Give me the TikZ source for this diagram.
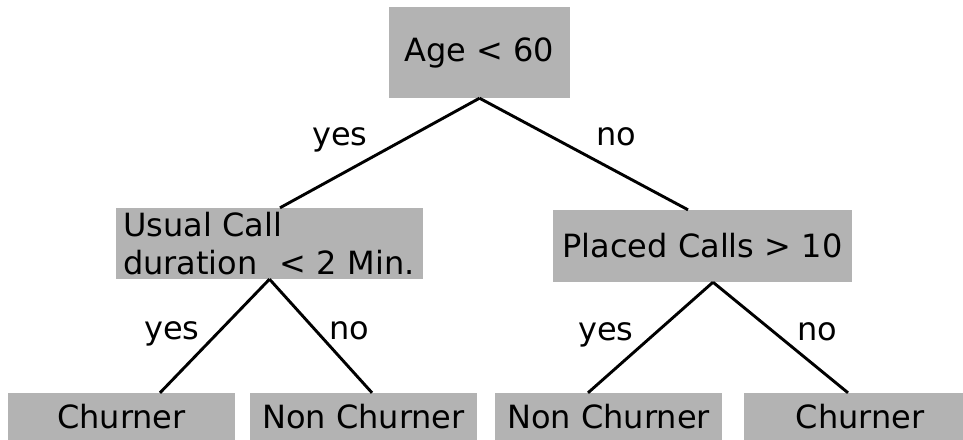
\documentclass[tikz,border=0pt]{standalone}
\usepackage{fontspec}
\setmainfont{DejaVu Sans}
\definecolor{boxgray}{RGB}{179,179,179}
\begin{document}
\begin{tikzpicture}[x=1pt,y=-1pt,
  every node/.style={font=\fontsize{32}{38}\selectfont},
  box/.style={fill=boxgray, inner sep=0pt, text=black},
  leaf/.style={box, minimum width=227pt, minimum height=47pt},
  branch/.style={line width=2.9pt},
  lbl/.style={anchor=base, inner sep=0pt}]
\useasboundingbox (0,0) rectangle (963,439);

% decision nodes
\node[box, minimum width=181pt, minimum height=91pt] (root) at (479.5,52.5) {Age < 60};
\node[box, minimum width=307pt, minimum height=71pt, text width=293pt,
      inner xsep=7pt, align=left] (usual) at (269.5,243.5)
      {Usual Call\\duration\ \ < 2 Min.};
\node[box, minimum width=299pt, minimum height=72pt] (placed) at (702.5,246) {Placed Calls > 10};

% leaves
\node[leaf] (l1) at (121.5,416.5) {Churner};
\node[leaf] (l2) at (363.5,416.5) {Non Churner};
\node[leaf] (l3) at (608.5,416.5) {Non Churner};
\node[leaf, minimum width=232pt] (l4) at (860,416.5) {Churner};

% branches
\draw[branch] (root.south) -- ([xshift=10.5pt]usual.north);
\draw[branch] (root.south) -- ([xshift=-14.5pt]placed.north);
\draw[branch] (usual.south) -- ([xshift=38.5pt]l1.north);
\draw[branch] (usual.south) -- ([xshift=8.5pt]l2.north);
\draw[branch] ([xshift=10.5pt]placed.south) -- ([xshift=-20.5pt]l3.north);
\draw[branch] ([xshift=10.5pt]placed.south) -- ([xshift=-12pt]l4.north);

% branch labels
\node[lbl] (y1) at (340,145) {yes};
\node[lbl] (n1) at (616,145) {no};
\node[lbl] (y2) at (172,339) {yes};
\node[lbl] (n2) at (349,339) {no};
\node[lbl] (y3) at (606,340) {yes};
\node[lbl] (n3) at (817,340) {no};
\end{tikzpicture}
\end{document}
